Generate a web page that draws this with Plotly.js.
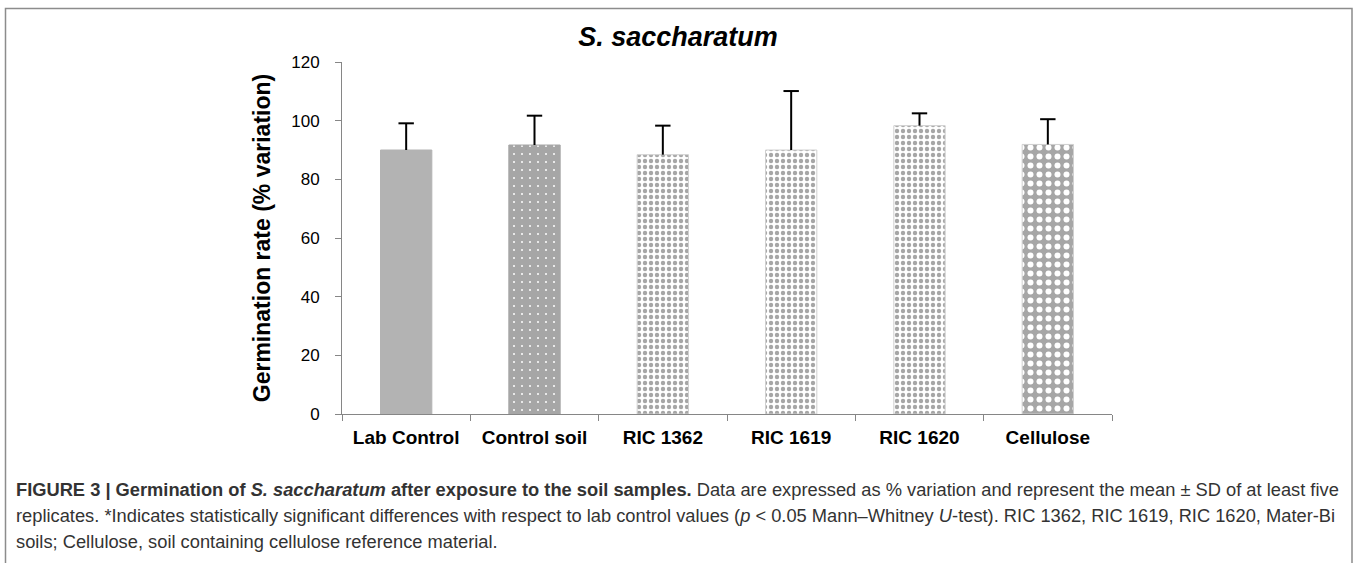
<!DOCTYPE html>
<html>
<head>
<meta charset="utf-8">
<script src="https://cdn.plot.ly/plotly-3.0.1.min.js"></script>
<style>
html,body{margin:0;padding:0;background:#fff;}
#chart{width:1358px;height:563px;}
</style>
</head>
<body>
<div id="chart"></div>
<script>
// Data
const categories = ["Lab Control", "Control soil", "RIC 1362", "RIC 1619", "RIC 1620", "Cellulose"];
const meanValues = [90.0, 91.7, 88.4, 90.0, 98.3, 91.9];
const sdValues = [9.1, 10.0, 9.9, 20.1, 4.2, 8.6];
const yTicks = [0, 20, 40, 60, 80, 100, 120];

// Styles per bar
const barStyles = [
  {shape: "",  fg: "#b3b3b3", bg: "#b3b3b3", size: 8, solidity: 0.3,  line: "#b3b3b3"},
  {shape: ".", fg: "#ffffff", bg: "#a6a6a6", size: 8, solidity: 0.05, line: "#a6a6a6"},
  {shape: ".", fg: "#a6a6a6", bg: "#ffffff", size: 6, solidity: 0.42, line: "#d0d0d0"},
  {shape: ".", fg: "#a6a6a6", bg: "#ffffff", size: 6, solidity: 0.42, line: "#d0d0d0"},
  {shape: ".", fg: "#a6a6a6", bg: "#ffffff", size: 6, solidity: 0.42, line: "#d0d0d0"},
  {shape: ".", fg: "#ffffff", bg: "#a6a6a6", size: 9, solidity: 0.35, line: "#d0d0d0"}
];

// plot-area pixel geometry (for paper conversions)
const L = 342, R = 1112, T = 62, B = 414;
const px = x => (x - L) / (R - L);
const py = y => (B - y) / (B - T);

const traces = categories.map((c, i) => {
  const s = barStyles[i];
  const marker = {color: s.bg, line: {color: s.line, width: 1}};
  if (s.shape) {
    marker.pattern = {shape: s.shape, fgcolor: s.fg, bgcolor: s.bg, size: s.size, solidity: s.solidity, fillmode: "replace"};
  }
  return {type: "bar", x: [c], y: [meanValues[i]], width: 0.4, marker: marker, hoverinfo: "skip"};
});

// upper-only error bars: vertical stems from mean to mean+SD
const errX = [], errY = [];
categories.forEach((c, i) => {
  errX.push(c, c, null);
  errY.push(meanValues[i], meanValues[i] + sdValues[i], null);
});
traces.push({
  type: "scatter", mode: "lines", x: errX, y: errY,
  line: {color: "#000000", width: 2}, hoverinfo: "skip", cliponaxis: false
});
traces.push({
  type: "scatter", mode: "markers", x: categories,
  y: meanValues.map((m, i) => m + sdValues[i]),
  marker: {symbol: "line-ew", size: 11, line: {color: "#000000", width: 2}},
  hoverinfo: "skip", cliponaxis: false
});

const captionFont = {family: "Liberation Sans, Arial, sans-serif", size: 18.3, color: "#333333"};

const layout = {
  width: 1358,
  height: 563,
  margin: {l: L, r: 1358 - R, t: T, b: 563 - B, pad: 0},
  paper_bgcolor: "#ffffff",
  plot_bgcolor: "#ffffff",
  showlegend: false,
  barmode: "overlay",
  title: {
    text: "<b><i>S. saccharatum</i></b>",
    font: {family: "Liberation Sans, Arial, sans-serif", size: 27, color: "#000000"},
    x: 0.4993, xref: "container", xanchor: "center",
    y: 1 - 37 / 563, yref: "container", yanchor: "middle"
  },
  xaxis: {
    type: "category",
    categoryorder: "array",
    categoryarray: categories,
    showline: true,
    linecolor: "#868686",
    linewidth: 1,
    ticks: "outside",
    tickson: "boundaries",
    ticklen: 6,
    tickcolor: "#868686",
    ticklabelstandoff: 6,
    showgrid: false,
    zeroline: false,
    tickfont: {family: "Liberation Sans, Arial, sans-serif", size: 19, color: "#000000", weight: "bold"},
    fixedrange: true
  },
  yaxis: {
    range: [0, 120],
    tickvals: yTicks,
    ticktext: yTicks.map(String),
    showline: true,
    linecolor: "#868686",
    linewidth: 1,
    ticks: "outside",
    ticklen: 6,
    tickcolor: "#868686",
    ticklabelstandoff: 12,
    showgrid: false,
    zeroline: false,
    tickfont: {family: "Liberation Sans, Arial, sans-serif", size: 17, color: "#000000"},
    title: {
      text: "<b>Germination rate (% variation)</b>",
      font: {family: "Liberation Sans, Arial, sans-serif", size: 23, color: "#000000"},
      standoff: 14
    },
    fixedrange: true
  },
  shapes: [{
    type: "rect", xref: "paper", yref: "paper",
    x0: px(5.5), x1: px(1352), y0: py(600), y1: py(8.5),
    line: {color: "#8c8c8c", width: 1.5},
    fillcolor: "rgba(0,0,0,0)",
    layer: "below"
  }],
  annotations: [
    {
      xref: "paper", yref: "paper", x: px(14), y: py(489), xanchor: "left", yanchor: "middle",
      showarrow: false, align: "left", font: captionFont,
      text: "<b>FIGURE 3 | Germination of <i>S. saccharatum</i> after exposure to the soil samples.</b> Data are expressed as % variation and represent the mean ± SD of at least five"
    },
    {
      xref: "paper", yref: "paper", x: px(14), y: py(515), xanchor: "left", yanchor: "middle",
      showarrow: false, align: "left", font: captionFont,
      text: "replicates. *Indicates statistically significant differences with respect to lab control values (<i>p</i> < 0.05 Mann–Whitney <i>U</i>-test). RIC 1362, RIC 1619, RIC 1620, Mater-Bi"
    },
    {
      xref: "paper", yref: "paper", x: px(14), y: py(541), xanchor: "left", yanchor: "middle",
      showarrow: false, align: "left", font: captionFont,
      text: "soils; Cellulose, soil containing cellulose reference material."
    }
  ]
};

Plotly.newPlot("chart", traces, layout, {staticPlot: true, displayModeBar: false});
</script>
</body>
</html>
